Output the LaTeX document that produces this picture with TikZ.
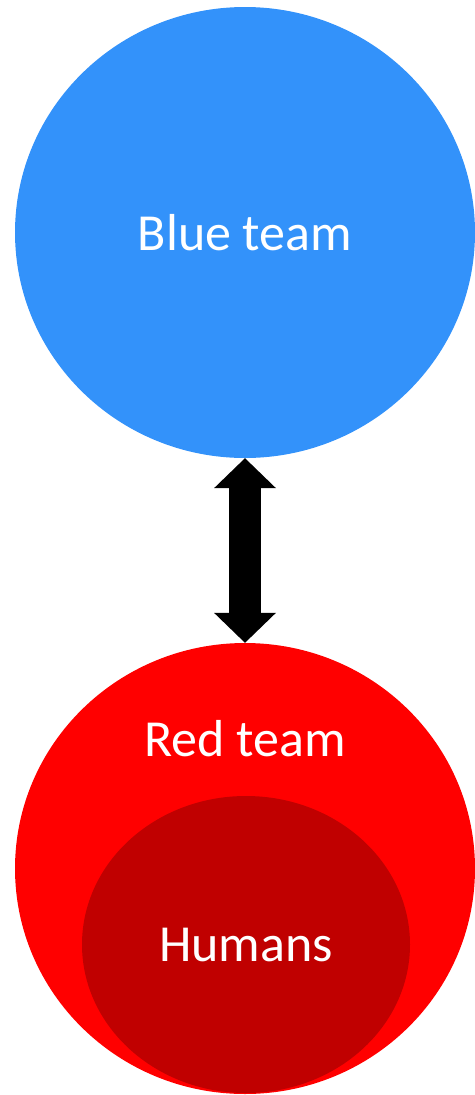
\documentclass[tikz,border=0pt]{standalone}
\usepackage{fontspec}
\setmainfont{Carlito}
\usepackage{xcolor}
\usepackage{tikz}
\usetikzlibrary{arrows.meta, positioning, shapes.geometric}

\definecolor{teamblue}{RGB}{51,146,250}
\definecolor{teamred}{RGB}{255,0,0}
\definecolor{humanred}{RGB}{192,0,0}

\begin{document}
\begin{tikzpicture}[
        x=1pt, y=1pt,
        every node/.style={font=\fontsize{52}{62}\selectfont, text=white},
        team/.style={ellipse, inner sep=0pt, minimum width=460pt, minimum height=451pt},
        bluebox/.style={team, fill=teamblue},
        redbox/.style={team, fill=teamred},
        humanbox/.style={ellipse, inner sep=0pt, fill=humanred, minimum width=328pt, minimum height=297pt},
        darr/.style={line width=32pt, {Triangle[width=62pt, length=30pt, line width=0pt]}-{Triangle[width=62pt, length=30pt, line width=0pt]}},
    ]
    \useasboundingbox (0,0) rectangle (474,-1095);

    %% ===== Blue team =====
    \node[bluebox] (blue) at (245,-232.5) {Blue team};

    %% ===== Red team =====
    \node[redbox] (red) at (245,-868.5) {};
    \node (redlabel) at (245,-739) {Red team};
    \node[humanbox] (humans) at (246,-944.5) {Humans};

    %% Arrow between the teams
    \draw[darr] (blue) -- (red);

\end{tikzpicture}
\end{document}
